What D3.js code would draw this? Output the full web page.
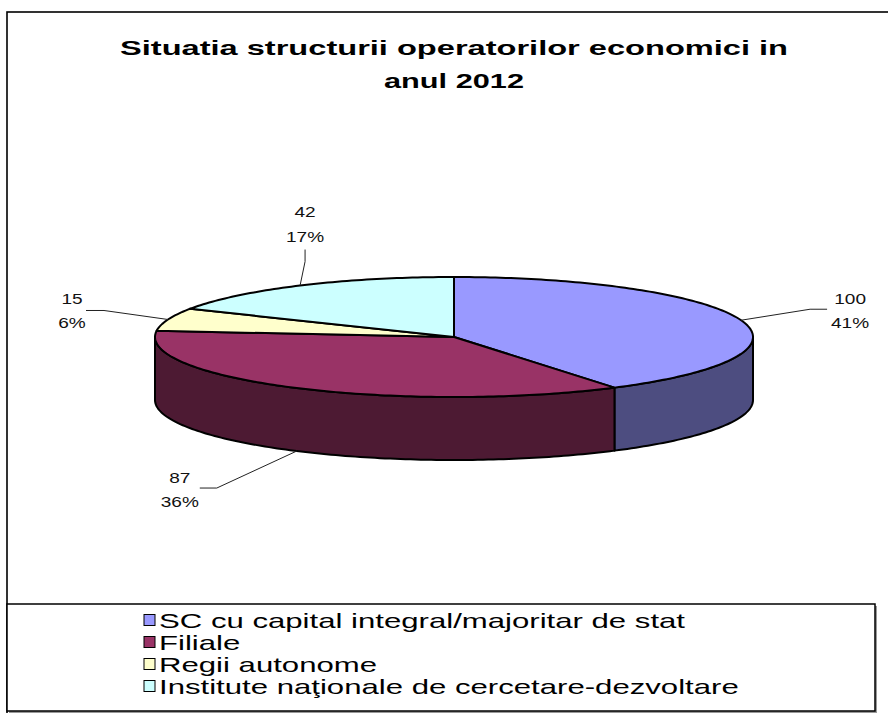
<!DOCTYPE html>
<html>
<head>
<meta charset="utf-8">
<script src="https://cdn.jsdelivr.net/npm/d3@7"></script>
<style>
  html, body { margin: 0; padding: 0; background: #fff; }
  svg { display: block; }
  text { font-family: "Liberation Sans", Arial, sans-serif; }
</style>
</head>
<body>
<svg id="chart" width="888" height="713"></svg>
<script>
// ---- data ----
const titleLines = ["Situatia structurii operatorilor economici in", "anul 2012"];
const categories = [
  "SC cu capital integral/majoritar de stat",
  "Filiale",
  "Regii autonome",
  "Institute naţionale de cercetare-dezvoltare"
];
const values = [100, 87, 15, 42];
const topColors  = ["#9999FF", "#993366", "#FFFFCC", "#CCFFFF"];
const sideColors = ["#4D4D80", "#4D1A33", "#80805F", "#5F8080"];

// ---- layout ----
const W = 888, H = 713;
const cx = 454, cy = 337, rx = 299, ry = 60, depth = 63;
// leader/label offsets relative to each slice's anchor point
const labelLayout = [
  { elbow: [69, -11],  end: [86, -11],  text: [109, -16, 8],  anchor: "middle" },
  { elbow: [-80, 37],  end: [-97, 37],  text: [-117, 32, 56], anchor: "middle" },
  { elbow: [-64, -9],  end: [-82, -9],  text: [-96, -15, 9],  anchor: "middle" },
  { elbow: [5, -24],   end: [5, -36],   text: [5, -69, -44],  anchor: "middle" }
];

const svg = d3.select("#chart");

// outer chart frame
svg.append("rect").attr("x", 7).attr("y", 12).attr("width", W + 20).attr("height", H + 20)
  .attr("fill", "#fff").attr("stroke", "#000").attr("stroke-width", 1.6);

// title
const titleBaselines = [55, 88];
const titleWidths = [668, 140];
titleLines.forEach((t, i) => {
  svg.append("text")
    .attr("x", cx).attr("y", titleBaselines[i])
    .attr("text-anchor", "middle")
    .attr("font-size", 21).attr("font-weight", "bold")
    .attr("textLength", titleWidths[i]).attr("lengthAdjust", "spacingAndGlyphs")
    .text(t);
});

// scales mapping unit circle onto the ellipse
const xS = d3.scaleLinear().domain([-1, 1]).range([cx - rx, cx + rx]);
const yS = d3.scaleLinear().domain([-1, 1]).range([cy - ry, cy + ry]);

const pie = d3.pie().sort(null).value(d => d).startAngle(0).endAngle(2 * Math.PI);
const arcs = pie(values);
const total = d3.sum(values);

function pt(a, dy) { return [xS(Math.sin(a)), yS(-Math.cos(a)) + (dy || 0)]; }
function arcPts(a0, a1, dy) {
  const n = Math.max(2, Math.ceil((a1 - a0) / (Math.PI / 180)));
  return d3.range(n + 1).map(i => pt(a0 + (a1 - a0) * i / n, dy));
}
const line = d3.line();

const gPie = svg.append("g");

// side walls (front half only)
arcs.forEach((a, i) => {
  const s = Math.max(a.startAngle, Math.PI / 2);
  const e = Math.min(a.endAngle, 3 * Math.PI / 2);
  if (e <= s) return;
  const top = arcPts(s, e, 0);
  const bot = arcPts(s, e, depth).reverse();
  gPie.append("path")
    .attr("d", line(top.concat(bot)) + "Z")
    .attr("fill", sideColors[i])
    .attr("stroke", "#000").attr("stroke-width", 2).attr("stroke-linejoin", "round");
});

// top faces
arcs.forEach((a, i) => {
  const pts = [[cx, cy]].concat(arcPts(a.startAngle, a.endAngle, 0));
  gPie.append("path")
    .attr("d", line(pts) + "Z")
    .attr("fill", topColors[i])
    .attr("stroke", "#000").attr("stroke-width", 2).attr("stroke-linejoin", "round");
});

// data labels with leader lines
const gLab = svg.append("g");
arcs.forEach((a, i) => {
  const mid = (a.startAngle + a.endAngle) / 2;
  const front = mid > Math.PI / 2 && mid < 3 * Math.PI / 2;
  const p = pt(mid, front ? depth : 0);
  const L = labelLayout[i];
  gLab.append("path")
    .attr("d", line([p, [p[0] + L.elbow[0], p[1] + L.elbow[1]], [p[0] + L.end[0], p[1] + L.end[1]]]))
    .attr("fill", "none").attr("stroke", "#222").attr("stroke-width", 1);
  const pct = Math.round(a.value / total * 100) + "%";
  [String(a.value), pct].forEach((t, k) => {
    const tx = gLab.append("text")
      .attr("x", p[0] + L.text[0]).attr("y", p[1] + L.text[1 + k])
      .attr("text-anchor", L.anchor)
      .attr("font-size", 15).attr("fill", "#111")
      .text(t);
    const len = tx.node().getComputedTextLength();
    tx.attr("textLength", len * 1.27).attr("lengthAdjust", "spacingAndGlyphs");
  });
});

// legend box
svg.append("rect").attr("x", 9).attr("y", 606).attr("width", 868).attr("height", 107)
  .attr("fill", "#999");
svg.append("rect").attr("x", 7).attr("y", 604).attr("width", 868).attr("height", 107)
  .attr("fill", "#fff").attr("stroke", "#000").attr("stroke-width", 1.5);

const legY = d3.scalePoint().domain(categories).range([620, 686]);
const gLeg = svg.append("g");
const legTexts = [];
categories.forEach((c, i) => {
  const y = legY(c);
  gLeg.append("rect").attr("x", 144).attr("y", y - 5.5).attr("width", 11).attr("height", 11)
    .attr("fill", topColors[i]).attr("stroke", "#000").attr("stroke-width", 1);
  const t = gLeg.append("text").attr("x", 159).attr("y", y + 7.5)
    .attr("font-size", 21).attr("fill", "#000").text(c);
  legTexts.push(t);
});
const legScale = 526 / legTexts[0].node().getComputedTextLength();
legTexts.forEach(t => {
  const len = t.node().getComputedTextLength();
  t.attr("textLength", len * legScale).attr("lengthAdjust", "spacingAndGlyphs");
});
</script>
</body>
</html>
